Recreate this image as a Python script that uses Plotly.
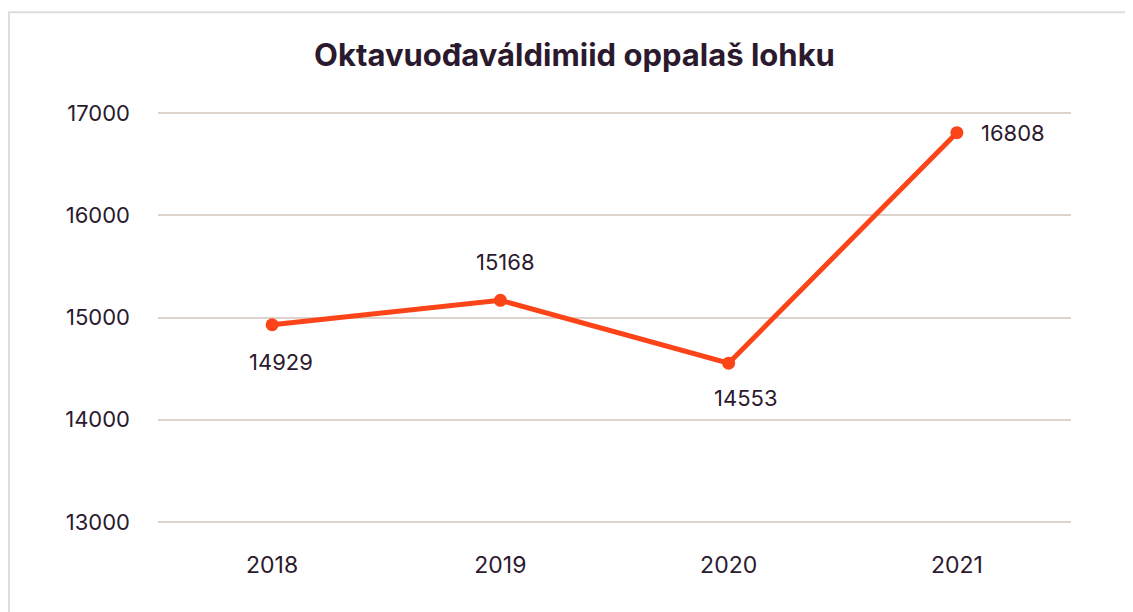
import plotly.graph_objects as go

years = ["2018", "2019", "2020", "2021"]
values = [14929, 15168, 14553, 16808]
y_ticks = [13000, 14000, 15000, 16000, 17000]
title_text = "Oktavuođaváldimiid oppalaš lohku"

LINE = "#fc4419"
TEXT = "#2b1a2e"
GRID = "#dcd3cc"
FONT = "Inter, sans-serif"

W, H = 1133, 612
OFF = 8  # page body margin
Y_MIN, Y_MAX, PAD = 13000, 17000, 40
scale = 409 / (Y_MAX - Y_MIN)  # px per unit
pad_px = PAD * scale
L, R = 158 - OFF, 1133 - (1071 - OFF)
T = 113 - OFF - pad_px
B = 612 - (522 - OFF) - pad_px
pw, ph = W - L - R, H - T - B

def px_x(p):
    return (p - L) / pw

def px_y(p):
    return (H - B - p) / ph

fig = go.Figure()
fig.add_trace(go.Scatter(
    x=years, y=values, mode="lines+markers",
    line=dict(color=LINE, width=5),
    marker=dict(color=LINE, size=13),
    hoverinfo="x+y", showlegend=False,
))

# data labels (category index used for x)
shifts = [(9, -37), (5, 38), (17, -35), (22, 0)]
anchors = ["center", "center", "center", "left"]
for i, (v, (dx, dy), a) in enumerate(zip(values, shifts, anchors)):
    fig.add_annotation(x=i, y=v, xref="x", yref="y", text=str(v),
                       showarrow=False, xshift=dx, yshift=dy, xanchor=a,
                       font=dict(size=22, color=TEXT, family=FONT))

# outer border
fig.add_shape(type="rect", xref="paper", yref="paper",
              x0=px_x(1), x1=px_x(1150), y0=px_y(640), y1=px_y(4),
              line=dict(color="#dedede", width=2), fillcolor="rgba(0,0,0,0)", layer="below")

fig.update_layout(
    width=W, height=H,
    margin=dict(l=L, r=R, t=T, b=B),
    paper_bgcolor="white", plot_bgcolor="white",
    font=dict(family=FONT, color=TEXT, size=20),
    title=dict(text="<b>" + title_text + "</b>", x=0.5, xanchor="center",
               y=1 - 47 / H, yanchor="middle",
               font=dict(size=31, color=TEXT, family=FONT)),
    xaxis=dict(type="category", range=[-0.5, 3.5], showgrid=False, zeroline=False,
               showline=False, ticks="", tickfont=dict(size=23, color=TEXT),
               ticklabelstandoff=int(round(27 - pad_px))),
    yaxis=dict(range=[Y_MIN - PAD, Y_MAX + PAD], tickvals=y_ticks, tickformat="d",
               showgrid=True, gridcolor=GRID,
               gridwidth=1.5, zeroline=False, showline=False, ticks="",
               tickfont=dict(size=22, color=TEXT), ticklabelstandoff=27),
)

fig.write_html("out.html")
